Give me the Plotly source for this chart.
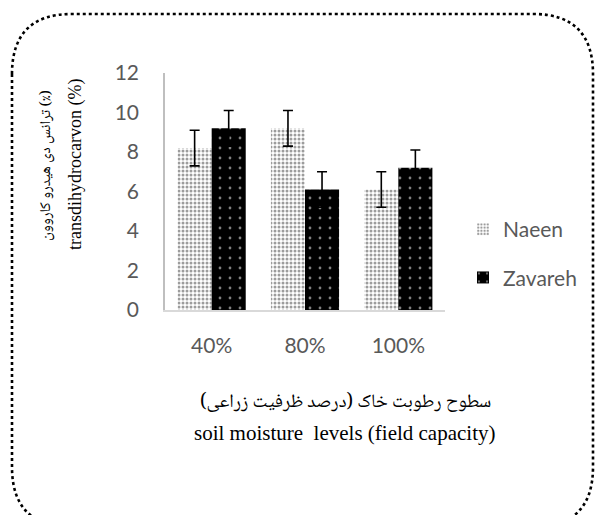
import plotly.graph_objects as go

# Data
categories = ["40%", "80%", "100%"]
naeen = [8.2, 9.2, 6.1]
zavareh = [9.2, 6.1, 7.2]
naeen_err = [0.9, 0.9, 0.9]
zavareh_err = [0.9, 0.9, 0.9]
y_ticks = [0, 2, 4, 6, 8, 10, 12]

W, H = 595, 515
ML, MR, MT, MB = 165, 150, 73, 205
PW, PH = W - ML - MR, H - MT - MB


def px(x, y):
    """Pixel position -> paper coordinates."""
    return (x - ML) / PW, (H - MB - y) / PH


tick_font = dict(family="Lato, Carlito, Liberation Sans", size=21, color="#595959")
serif = "Liberation Serif, Times New Roman, serif"
persian = "Noto Naskh Arabic, Noto Sans Arabic, DejaVu Sans"

fig = go.Figure()
fig.add_trace(go.Bar(
    name="Naeen", x=categories, y=naeen,
    error_y=dict(type="data", array=naeen_err, color="black", thickness=1.6, width=5),
    marker=dict(color="white", line=dict(width=0),
                pattern=dict(shape=".", size=4, solidity=0.45,
                             fgcolor="#3a3a3a", bgcolor="white")),
    legendgroup="a",
))
fig.add_trace(go.Bar(
    name="Zavareh", x=categories, y=zavareh,
    error_y=dict(type="data", array=zavareh_err, color="black", thickness=1.6, width=5),
    marker=dict(color="black", line=dict(width=0),
                pattern=dict(shape=".", size=10, solidity=0.06,
                             fgcolor="white", bgcolor="black")),
    legendgroup="b",
))

# Rounded dotted frame around the chart
r = 60
x0, y0, x1, y1 = 12, 14, 593, 527
pts = [
    ("M", [(x0, y0 + r)]),
    ("Q", [(x0, y0), (x0 + r, y0)]),
    ("L", [(x1 - r, y0)]),
    ("Q", [(x1, y0), (x1, y0 + r)]),
    ("L", [(x1, y1 - r)]),
    ("Q", [(x1, y1), (x1 - r, y1)]),
    ("L", [(x0 + r, y1)]),
    ("Q", [(x0, y1), (x0, y1 - r)]),
]
path = ""
for cmd, ps in pts:
    path += cmd + " " + " ".join("%.5f,%.5f" % px(*p) for p in ps) + " "
path += "Z"
shapes = [dict(type="path", xref="paper", yref="paper", path=path,
               line=dict(color="black", width=2.6, dash="dot"))]


def label(text, x, y, font, angle=0):
    ux, uy = px(x, y)
    return dict(text=text, x=ux, y=uy, xref="paper", yref="paper",
                xanchor="center", yanchor="middle", showarrow=False,
                textangle=angle, font=font)


annotations = [
    label("ترانس دی هیدرو کاروون (٪)", 47, 166,
          dict(family=persian, size=15, color="black"), -90),
    label("transdihydrocarvon (%)", 75, 165,
          dict(family=serif, size=18, color="black"), -90),
    label("سطوح رطوبت خاک (درصد ظرفیت زراعی)", 345, 403,
          dict(family=persian, size=19, color="black")),
    label("soil moisture  levels (field capacity)", 345, 433,
          dict(family=serif, size=21, color="black")),
]

lx, ly = px(463, 209)
fig.update_layout(
    width=W, height=H,
    margin=dict(l=ML, r=MR, t=MT, b=MB, pad=0),
    paper_bgcolor="white", plot_bgcolor="white",
    barmode="group", bargap=0.27, bargroupgap=0,
    showlegend=True,
    legend=dict(x=lx, y=ly, xanchor="left", yanchor="top", font=tick_font,
                tracegroupgap=18, bgcolor="rgba(0,0,0,0)"),
    xaxis=dict(showline=True, linecolor="#d9d9d9", linewidth=1.5, showgrid=False,
               ticks="outside", ticklen=16, tickcolor="rgba(0,0,0,0)", tickfont=tick_font),
    yaxis=dict(range=[0, 12], tickvals=y_ticks, showline=True, linecolor="#bfbfbf",
               linewidth=1.5, showgrid=False, zeroline=False,
               ticks="outside", ticklen=20, tickcolor="rgba(0,0,0,0)", tickfont=tick_font),
    shapes=shapes, annotations=annotations,
)

fig.write_html("out.html")
